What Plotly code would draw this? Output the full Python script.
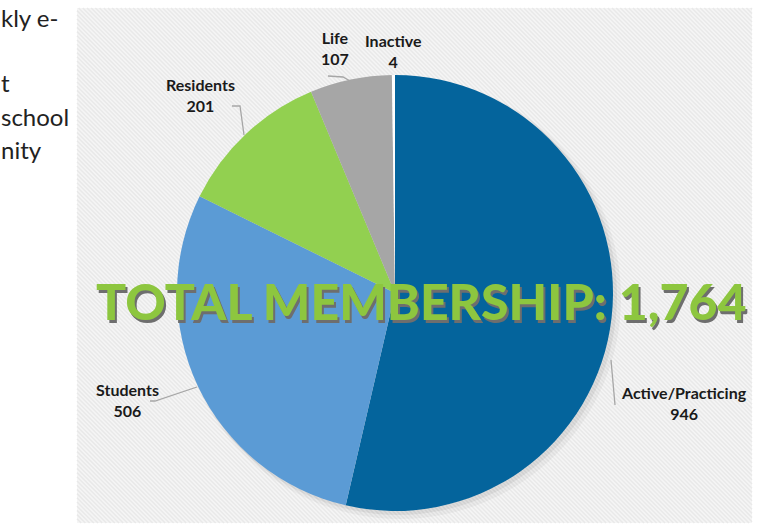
import plotly.graph_objects as go

# ---------------- data ----------------
categories = ["Active/Practicing", "Students", "Residents", "Life", "Inactive"]
members = [946, 506, 201, 107, 4]
slice_colors = ["#04649C", "#5B9BD5", "#92D050", "#A6A6A6", "#FFFFFF"]
total_prefix = "TOTAL MEMBERSHIP: "
side_text = ["kly e-", "", "t", "school", "nity"]

# ---------------- layout helpers (pixels -> paper) ----------------
W, H = 759, 524


def px(x):
    return x / W


def py(y):
    return 1 - y / H


cx, cy, r = 395, 293, 218
panel = (77, 8, 752, 523)

# label centres (pixels) and leader-line polylines (pixels)
label_pos = {
    "Active/Practicing": (684, 403),
    "Students": (127, 400),
    "Residents": (200, 95),
    "Life": (335, 48),
    "Inactive": (393, 51),
}
leaders = {
    "Active/Practicing": [(611, 360), (615, 405)],
    "Students": [(197, 387), (155, 401), (150, 401)],
    "Residents": [(232, 106), (240, 106), (244, 135)],
    "Life": [(328, 76), (343, 77), (350, 81)],
}

fig = go.Figure()
fig.add_trace(go.Pie(
    labels=categories, values=members, sort=False, direction="clockwise", rotation=0,
    marker=dict(colors=slice_colors, line=dict(width=0)),
    textinfo="none", hoverinfo="label+value", showlegend=False,
    domain=dict(x=[px(cx - r), px(cx + r)], y=[py(cy + r), py(cy - r)]),
))

shapes = []
# panel background
x0, y0, x1, y1 = panel
shapes.append(dict(type="rect", xref="paper", yref="paper", x0=px(x0), x1=px(x1), y0=py(y1), y1=py(y0),
                   fillcolor="#f5f5f5", line=dict(width=0), layer="below"))
# diagonal stripes (top-left to bottom-right)
segs = []
c = x0 - y1
while c < x1 - y0:
    ya = max(y0, x0 - c)
    yb = min(y1, x1 - c)
    if yb > ya:
        segs.append(f"M{px(ya + c):.5f},{py(ya):.5f}L{px(yb + c):.5f},{py(yb):.5f}")
    c += 4.2
shapes.append(dict(type="path", xref="paper", yref="paper", path="".join(segs),
                   line=dict(color="#e9e9e9", width=1.5), layer="below"))
# soft pie shadow
for off, grow, a in [(5, 3, 0.04), (3, 1, 0.06)]:
    shapes.append(dict(type="circle", xref="paper", yref="paper",
                       x0=px(cx - r - grow + off), x1=px(cx + r + grow + off),
                       y0=py(cy + r + grow + off), y1=py(cy - r - grow + off),
                       fillcolor=f"rgba(0,0,0,{a})", line=dict(width=0), layer="below"))
# leader lines
for name, pts in leaders.items():
    p = "M" + "L".join(f"{px(a):.5f},{py(b):.5f}" for a, b in pts)
    shapes.append(dict(type="path", xref="paper", yref="paper", path=p,
                       line=dict(color="#a6a6a6", width=1.3), layer="above"))

annotations = []
# slice labels
for name, val in zip(categories, members):
    lx, ly = label_pos[name]
    annotations.append(dict(x=px(lx), y=py(ly), xref="paper", yref="paper", showarrow=False,
                            xanchor="center", yanchor="middle",
                            text=f"{name}<br>{val:,}", align="center",
                            font=dict(family="Lato", size=16, color="#1a1a1a", weight="bold")))
# big overlay title with shadow
total_text = f"{total_prefix}{sum(members):,}"
for dx, dy, col in [(3, 3, "#6e6e6e"), (0, 0, "#8DC63F")]:
    annotations.append(dict(x=px(421 + dx), y=py(301 + dy), xref="paper", yref="paper", showarrow=False,
                            xanchor="center", yanchor="middle",
                            text=total_text, align="center",
                            font=dict(family="Lato", size=50, color=col, weight=900)))
# cropped body text on the left
for i, t in enumerate(side_text):
    if t:
        annotations.append(dict(x=px(-1), y=py(17 + 33 * i), xref="paper", yref="paper", showarrow=False,
                                xanchor="left", yanchor="middle", text=t,
                                font=dict(family="Lato", size=24, color="#222222")))

fig.update_layout(width=W, height=H, margin=dict(l=0, r=0, t=0, b=0),
                  paper_bgcolor="white", plot_bgcolor="white",
                  shapes=shapes, annotations=annotations)
fig.write_html("out.html", config={"displayModeBar": False},
               post_script="document.body.style.margin='0px';document.body.style.overflow='hidden';")
